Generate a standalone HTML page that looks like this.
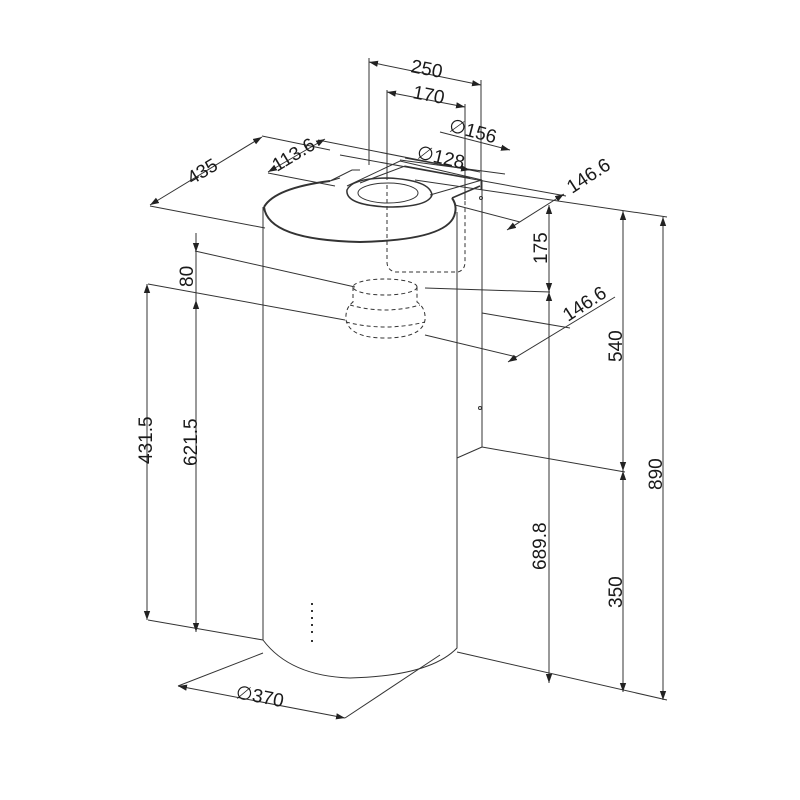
<!DOCTYPE html>
<html><head><meta charset="utf-8"><style>html,body{margin:0;background:#fff}svg{display:block}text{font-family:"Liberation Sans",sans-serif;font-size:19px;fill:#1a1a1a}</style></head><body>
<svg width="800" height="800" viewBox="0 0 800 800" xmlns="http://www.w3.org/2000/svg">
<defs><marker id="a" viewBox="0 0 10 10" refX="10" refY="5" markerWidth="9" markerHeight="9" orient="auto-start-reverse" markerUnits="userSpaceOnUse"><path d="M0,1.5L10,5L0,8.5z" fill="#222"/></marker></defs>
<g stroke="#333" stroke-width="1" fill="none">
<path d="M263,207 L263,640 Q290,676 350,678 Q430,676 457,648 L457,212" />
<path d="M264,207 Q275,188 330,181" stroke-width="2"/>
<path d="M264,207 Q268,240 360,242 Q450,240 455,213 Q457,205 452,198" stroke-width="2"/>
<path d="M452,198 L480,186" stroke-width="1.5"/>
<path d="M347,190 Q352,178 388,178 Q430,180 432,195 Q428,207 388,207 Q345,205 347,190z" stroke-width="1.5"/>
<ellipse cx="388" cy="193" rx="30" ry="10"/>
<path d="M347,186 L400,161 L482,180 M360,183 L405,166 L470,178 M430,195 L482,180"/>
<path d="M330,181 L340,178 M330,181 L352,170 L360,170"/>
<path d="M482,180 L482,447 L457,458"/>
<circle cx="480" cy="408" r="1.5"/><circle cx="481" cy="198" r="1.5"/>
<g stroke-dasharray="4,3">
<path d="M387,185 L387,262 Q387,270 395,272 L458,272 Q465,270 465,262 L465,195"/>
<ellipse cx="385" cy="287" rx="32" ry="8"/>
<path d="M353,287 L353,302 Q345,308 346,320 Q350,338 385,338 Q422,338 425,320 Q426,308 417,302 L417,287"/>
<path d="M350,305 Q385,315 420,305 M346,322 Q385,332 425,322"/>
</g>
<g stroke-width="2"><path d="M312,603 v2 M312,610 v2 M312,617 v2 M312,624 v2 M312,631 v2 M312,640 v2"/></g>
<path d="M369,58 L369,165 M481,80 L481,190 M387,90 L387,180 M465,104 L465,200"/>
<path d="M262,136 L330,150 M150,206 L265,228 M268,173 L335,186 M318,140 L480,172 M340,155 L566,196 M400,160 L505,174"/>
<path d="M415,180 L667,217 M455,205 L520,222"/>
<path d="M195,251 L355,287 M425,288 L550,292 M148,284 L345,320 M425,335 L517,357 M482,313 L570,328"/>
<path d="M482,447 L625,472 M148,620 L263,640 M457,652 L667,700"/>
<path d="M178,686 L263,653 M345,718 L440,655"/>
<path d="M369,62 L481,85" marker-start="url(#a)" marker-end="url(#a)"/>
<path d="M387,92 L465,107" marker-start="url(#a)" marker-end="url(#a)"/>
<path d="M440,132 L510,150" marker-end="url(#a)"/>
<path d="M405,158 L470,170" marker-end="url(#a)"/>
<path d="M150,205 L262,137" marker-start="url(#a)" marker-end="url(#a)"/>
<path d="M268,172 L325,139" marker-start="url(#a)" marker-end="url(#a)"/>
<path d="M507,230 L564,194" marker-start="url(#a)" marker-end="url(#a)"/>
<path d="M508,362 L615,297" marker-start="url(#a)"/>
<path d="M549,205 L549,292" marker-start="url(#a)" marker-end="url(#a)"/>
<path d="M549,292 L549,683" marker-start="url(#a)" marker-end="url(#a)"/>
<path d="M623,211 L623,471" marker-start="url(#a)" marker-end="url(#a)"/>
<path d="M623,471 L623,692" marker-start="url(#a)" marker-end="url(#a)"/>
<path d="M663,217 L663,700" marker-start="url(#a)" marker-end="url(#a)"/>
<path d="M196,233 L196,252" marker-end="url(#a)"/>
<path d="M196,300 L196,632" marker-start="url(#a)" marker-end="url(#a)"/>
<path d="M196,252 L196,300" />
<path d="M147,284 L147,620" marker-start="url(#a)" marker-end="url(#a)"/>
<path d="M178,686 L345,718" marker-start="url(#a)" marker-end="url(#a)"/>
</g>
<g>
<text transform="translate(410,72) rotate(11)">250</text>
<text transform="translate(412,98) rotate(11)">170</text>
<text transform="translate(448,131) rotate(15)">∅156</text>
<text transform="translate(416,158) rotate(13)">∅128</text>
<text transform="translate(192,185) rotate(-31)">435</text>
<text transform="translate(277,172) rotate(-31)">113.6</text>
<text transform="translate(572,194) rotate(-33)">146.6</text>
<text transform="translate(568,322) rotate(-33)">146.6</text>
<text transform="translate(547,264) rotate(-90)">175</text>
<text transform="translate(193,287) rotate(-90)">80</text>
<text transform="translate(622,362) rotate(-90)">540</text>
<text transform="translate(662,490) rotate(-90)">890</text>
<text transform="translate(546,570) rotate(-90)">689.8</text>
<text transform="translate(622,608) rotate(-90)">350</text>
<text transform="translate(152,464) rotate(-90)">431.5</text>
<text transform="translate(197,466) rotate(-90)">621.5</text>
<text transform="translate(235,698) rotate(11)">∅370</text>
</g>
</svg>
</body></html>
